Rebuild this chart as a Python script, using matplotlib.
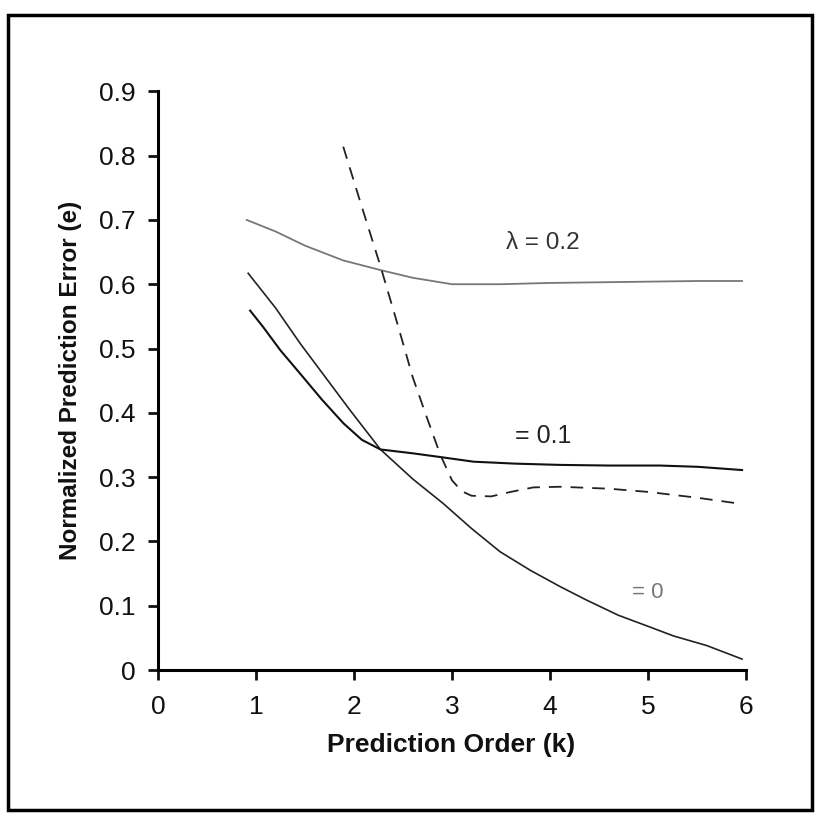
import matplotlib.pyplot as plt
from matplotlib.patches import Rectangle

# values
k_lam0 = [0.92, 1.2, 1.45, 1.7, 1.96, 2.27, 2.6, 2.91, 3.2, 3.49, 3.8, 4.1, 4.37, 4.7, 5.0, 5.26, 5.6, 5.96]
e_lam0 = [0.617, 0.563, 0.508, 0.457, 0.404, 0.343, 0.297, 0.259, 0.220, 0.184, 0.155, 0.130, 0.109, 0.085, 0.068, 0.053, 0.038, 0.017]

k_lam01 = [0.94, 1.07, 1.25, 1.45, 1.67, 1.89, 2.08, 2.27, 2.6, 2.89, 3.22, 3.64, 4.1, 4.6, 5.12, 5.51, 5.96]
e_lam01 = [0.559, 0.534, 0.497, 0.461, 0.421, 0.384, 0.358, 0.343, 0.337, 0.331, 0.324, 0.321, 0.319, 0.318, 0.318, 0.316, 0.311]

k_lam02 = [0.905, 1.2, 1.5, 1.89, 2.27, 2.6, 3.0, 3.5, 4.0, 4.5, 5.0, 5.5, 5.96]
e_lam02 = [0.700, 0.682, 0.660, 0.637, 0.622, 0.610, 0.600, 0.600, 0.602, 0.603, 0.604, 0.605, 0.605]

k_dash = [1.89, 2.05, 2.27, 2.44, 2.6, 2.75, 2.88, 3.0, 3.1, 3.2, 3.4, 3.6, 3.83, 4.1, 4.6, 5.0, 5.5, 5.92]
e_dash = [0.814, 0.735, 0.628, 0.540, 0.455, 0.390, 0.335, 0.295, 0.278, 0.271, 0.270, 0.277, 0.284, 0.285, 0.282, 0.277, 0.268, 0.259]

x_ticks = [0, 1, 2, 3, 4, 5, 6]
y_ticks = [0, 0.1, 0.2, 0.3, 0.4, 0.5, 0.6, 0.7, 0.8, 0.9]
y_ticklabels = ["0", "0.1", "0.2", "0.3", "0.4", "0.5", "0.6", "0.7", "0.8", "0.9"]

plt.rcParams["font.family"] = ["Liberation Sans", "DejaVu Sans"]

fig = plt.figure(figsize=(8.15, 8.14), dpi=100)
ax = fig.add_axes([0.1939, 0.1769, 0.7214, 0.7109])

ax.plot(k_lam0, e_lam0, color="#222222", lw=1.2)
ax.plot(k_lam01, e_lam01, color="#111111", lw=1.5)
ax.plot(k_lam02, e_lam02, color="#777777", lw=1.3)
ax.plot(k_dash, e_dash, color="#222222", lw=1.3, dashes=(7, 5))

ax.text(3.93, 0.664, "λ = 0.2", fontsize=17.5, ha="center", va="center", color="#333333")
ax.text(3.93, 0.364, "= 0.1", fontsize=18, ha="center", va="center", color="#222222")
ax.text(5.0, 0.121, "= 0", fontsize=16, ha="center", va="center", color="#777777")

ax.set_xlim(0, 6)
ax.set_ylim(0, 0.9)
ax.set_xticks(x_ticks)
ax.set_yticks(y_ticks)
ax.set_yticklabels(y_ticklabels)
for s in ["top", "right"]:
    ax.spines[s].set_visible(False)
for s in ["left", "bottom"]:
    ax.spines[s].set_linewidth(2.2)
ax.tick_params(axis="both", direction="out", length=7, width=2, labelsize=19, colors="#111111")
ax.tick_params(axis="y", pad=9)
ax.tick_params(axis="x", pad=11)

fig.text(0.087, 0.533, "Normalized Prediction Error (e)", rotation=90, ha="center", va="center",
         fontsize=17.5, fontweight="bold", color="#111111")
fig.text(0.553, 0.085, "Prediction Order (k)", ha="center", va="center",
         fontsize=19, fontweight="bold", color="#111111")

# scanned page frame
fig.patches.append(Rectangle((0.0098, 0.005), 0.986, 0.9766, transform=fig.transFigure,
                             fill=False, edgecolor="black", linewidth=2.5))

fig.savefig("out.png", dpi=100)
